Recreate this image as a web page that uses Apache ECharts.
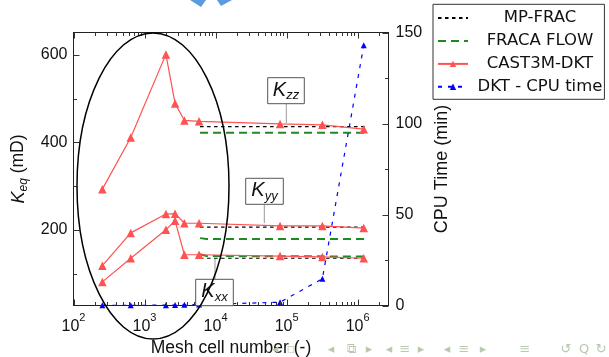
<!DOCTYPE html>
<html><head><meta charset="utf-8">
<script src="https://cdn.jsdelivr.net/npm/echarts@6/dist/echarts.min.js"></script>
<style>html,body{margin:0;padding:0;background:#fff}#c{width:609px;height:357px}</style>
</head><body><div id="c"></div>
<script>
// ---- data ----
const meshCells   = [255, 640, 2000, 2690, 3640, 5860, 80900, 319000, 1220000];
const kzzDKT      = [293, 411, 601, 489, 450, 448, 442, 440, 430];
const kyyDKT      = [118, 193, 236, 237, 215, 215, 209, 209, 204];
const kxxDKT      = [81, 135, 200, 221, 143, 143, 140, 138, 135];
const cpuTimeDKT  = [0.1, 0.1, 0.2, 0.3, 0.4, 0.5, 1.8, 14.7, 143];
const refCells    = [6050, 1350000];
const mpFracZZ    = [436, 436];
const mpFracYY    = [206, 206];
const mpFracXX    = [135, 135];
const fracaCells  = [6050, 7500, 1350000];
const fracaZZ     = [422, 422, 422];
const fracaYY     = [181, 179, 179];
const fracaXX     = [144, 140, 139];
const xMajorTicks = [100, 1000, 10000, 100000, 1000000];
const xMinorTicks = [200,300,400,500,600,700,800,900,2000,3000,4000,5000,6000,7000,8000,9000,
  20000,30000,40000,50000,60000,70000,80000,90000,200000,300000,400000,500000,600000,700000,800000,900000,2000000];
const leftMajor   = [200, 400, 600];
const leftMinor   = [100, 300, 500];
const rightMajor  = [0, 50, 100, 150];
const rightMinor  = [25, 75, 125];
const legendNames = ['MP-FRAC', 'FRACA FLOW', 'CAST3M-DKT', 'DKT - CPU time'];

const pairs = (xs, ys) => xs.map((x, i) => [x, ys[i]]);
const TICKF = 'Liberation Sans';
const FRAME = '#222', TICKC = '#333';
const RED = '#ff5252', GREEN = '#1f8a22', BLUE = '#0000ff';
const MAJOR_LEN = 6, MINOR_LEN = 3.5;

const G = {left: 73.5, top: 32.5, right: 220.5, bottom: 51.5};
const xCommon = {type: 'log', logBase: 10, min: 100, max: 2720000, splitLine: {show: false}, minorTick: {show: false}};
const subRich = {
  k: {fontFamily: TICKF, fontStyle: 'italic', fontSize: 20, fill: '#111', lineHeight: 22, verticalAlign: 'top'},
  s: {fontFamily: TICKF, fontStyle: 'italic', fontSize: 13, fill: '#111', lineHeight: 10, verticalAlign: 'bottom'}};

const tickStyle = {stroke: TICKC, lineWidth: 1, opacity: 1};
// x ticks: inward at bottom and mirrored at top
const xTickSeries = {
  type: 'custom', name: 'xticks', xAxisIndex: 0, yAxisIndex: 0, silent: true, clip: false, z: 20,
  encode: {x: 0, y: 1},
  data: xMajorTicks.map(v => [v, 300, MAJOR_LEN]).concat(xMinorTicks.map(v => [v, 300, MINOR_LEN])),
  renderItem: (params, api) => {
    const cs = params.coordSys;
    const x = Math.round(api.coord([api.value(0), api.value(1)])[0]) + 0.5;
    const len = api.value(2);
    const yb = cs.y + cs.height, yt = cs.y;
    return {type: 'group', children: [
      {type: 'line', shape: {x1: x, y1: yb, x2: x, y2: yb - len}, style: tickStyle},
      {type: 'line', shape: {x1: x, y1: yt, x2: x, y2: yt + len}, style: tickStyle}]};
  }
};
const yTickSeries = (axisIdx, major, minor, side) => ({
  type: 'custom', name: 'yticks' + axisIdx, xAxisIndex: 0, yAxisIndex: axisIdx, silent: true, clip: false, z: 20,
  encode: {x: 0, y: 1},
  data: major.map(v => [1000, v, MAJOR_LEN]).concat(minor.map(v => [1000, v, MINOR_LEN])),
  renderItem: (params, api) => {
    const cs = params.coordSys;
    const y = Math.round(api.coord([api.value(0), api.value(1)])[1]) + 0.5;
    const len = api.value(2);
    const x0 = side === 'left' ? cs.x : cs.x + cs.width;
    const x1 = side === 'left' ? x0 + len : x0 - len;
    return {type: 'line', shape: {x1: x0, y1: y, x2: x1, y2: y}, style: tickStyle};
  }
});

const chart = echarts.init(document.getElementById('c'), null, {renderer: 'canvas'});
chart.setOption({
  animation: false,
  backgroundColor: '#fff',
  grid: Object.assign({show: false, containLabel: false, outerBoundsMode: 'none'}, G),
  xAxis: [
    Object.assign({}, xCommon, {position: 'bottom',
      axisLine: {show: true, lineStyle: {color: FRAME, width: 1}},
      axisTick: {show: false},
      axisLabel: {show: true, customValues: xMajorTicks, margin: 7,
        formatter: v => '{b|10}{s|' + Math.round(Math.log10(v)) + '}',
        rich: {b: {fontFamily: TICKF, fontSize: 16, color: '#111', lineHeight: 22, verticalAlign: 'bottom'},
               s: {fontFamily: TICKF, fontSize: 11, color: '#111', lineHeight: 8, verticalAlign: 'top'}}},
      name: 'Mesh cell number (-)', nameLocation: 'middle', nameGap: 31,
      nameTextStyle: {fontFamily: TICKF, fontSize: 17.5, color: '#111'}}),
    Object.assign({}, xCommon, {position: 'top',
      axisLine: {show: true, lineStyle: {color: FRAME, width: 1}},
      axisTick: {show: false}, axisLabel: {show: false}})
  ],
  yAxis: [
    {type: 'value', position: 'left', min: 27, max: 651, splitLine: {show: false},
      axisLine: {show: true, lineStyle: {color: FRAME, width: 1}},
      axisTick: {show: false},
      axisLabel: {show: true, customValues: leftMajor, margin: 6, fontFamily: TICKF, fontSize: 16, color: '#111'},
      name: '{k|K}{e|eq}{t| (mD)}', nameLocation: 'middle', nameGap: 44, nameRotate: 90,
      nameTextStyle: {rich: {
        k: {fontFamily: TICKF, fontStyle: 'italic', fontSize: 18, color: '#111', lineHeight: 20, verticalAlign: 'top'},
        e: {fontFamily: TICKF, fontStyle: 'italic', fontSize: 12, color: '#111', lineHeight: 9, verticalAlign: 'bottom'},
        t: {fontFamily: TICKF, fontSize: 17.5, color: '#111', lineHeight: 20, verticalAlign: 'top'}}}},
    {type: 'value', position: 'right', min: 0, max: 150, splitLine: {show: false},
      axisLine: {show: true, lineStyle: {color: FRAME, width: 1}},
      axisTick: {show: false},
      axisLabel: {show: true, customValues: rightMajor, margin: 7, fontFamily: TICKF, fontSize: 16, color: '#111'},
      name: 'CPU Time (min)', nameLocation: 'middle', nameGap: 45, nameRotate: 90,
      nameTextStyle: {fontFamily: TICKF, fontSize: 18, color: '#111'}}
  ],
  legend: {
    orient: 'vertical', left: 433, top: 4.3, padding: [5.3, 2, 4, 4],
    itemWidth: 30, itemHeight: 8, itemGap: 5.9,
    borderColor: '#333', borderWidth: 1, borderRadius: 0, backgroundColor: '#fff',
    data: [
      {name: legendNames[0], itemStyle: {opacity: 0}},
      {name: legendNames[1], itemStyle: {opacity: 0}},
      {name: legendNames[2]},
      {name: legendNames[3]}
    ],
    formatter: n => '{c|' + n + '}',
    textStyle: {fontFamily: 'DejaVu Sans', fontSize: 16.5, color: '#111',
      rich: {c: {width: 134, align: 'center', fontFamily: 'DejaVu Sans', fontSize: 16.5, color: '#111'}}}
  },
  series: [
    xTickSeries,
    yTickSeries(0, leftMajor, leftMinor, 'left'),
    yTickSeries(1, rightMajor, rightMinor, 'right'),
    ...[mpFracZZ, mpFracYY, mpFracXX].map(d => ({
      name: 'MP-FRAC', type: 'line', xAxisIndex: 0, yAxisIndex: 0, data: pairs(refCells, d),
      symbol: 'none', color: '#000', lineStyle: {color: '#000', width: 1.2, type: [3.5, 3.5]}, z: 2})),
    ...[fracaZZ, fracaYY, fracaXX].map(d => ({
      name: 'FRACA FLOW', type: 'line', xAxisIndex: 0, yAxisIndex: 0, data: pairs(fracaCells, d),
      symbol: 'none', color: GREEN, lineStyle: {color: GREEN, width: 2, type: [8, 5]}, z: 2})),
    ...[kzzDKT, kyyDKT, kxxDKT].map(d => ({
      name: 'CAST3M-DKT', type: 'line', xAxisIndex: 0, yAxisIndex: 0, data: pairs(meshCells, d),
      symbol: 'triangle', symbolSize: 8.5, showSymbol: true, color: RED,
      itemStyle: {color: RED}, lineStyle: {color: RED, width: 1.2}, z: 3})),
    {name: 'DKT - CPU time', type: 'line', xAxisIndex: 0, yAxisIndex: 1, data: pairs(meshCells, cpuTimeDKT),
      symbol: 'triangle', symbolSize: 6, showSymbol: true, color: BLUE,
      itemStyle: {color: BLUE}, lineStyle: {color: BLUE, width: 1.2, type: [4, 6]}, z: 4}
  ],
  graphic: {elements: [
    // ellipse highlighting the coarse meshes
    {type: 'ellipse', shape: {cx: 153, cy: 186, rx: 76, ry: 153}, style: {fill: 'none', stroke: '#000', lineWidth: 1.5}, z: 100},
    // K_zz / K_yy / K_xx callouts
    {type: 'line', shape: {x1: 286.3, y1: 103.8, x2: 286.3, y2: 123}, style: {stroke: '#999', lineWidth: 1}, z: 90},
    {type: 'rect', shape: {x: 267.7, y: 77.7, width: 36.6, height: 26}, style: {fill: '#fff', stroke: '#555', lineWidth: 1}, z: 91},
    {type: 'text', x: 286, y: 91, style: {text: '{k|K}{s|zz}', align: 'center', verticalAlign: 'middle', rich: subRich}, z: 92},
    {type: 'line', shape: {x1: 264.3, y1: 204.3, x2: 264.3, y2: 223}, style: {stroke: '#999', lineWidth: 1}, z: 90},
    {type: 'rect', shape: {x: 245.7, y: 178.3, width: 37.6, height: 26}, style: {fill: '#fff', stroke: '#555', lineWidth: 1}, z: 91},
    {type: 'text', x: 264.5, y: 191.5, style: {text: '{k|K}{s|yy}', align: 'center', verticalAlign: 'middle', rich: subRich}, z: 92},
    {type: 'line', shape: {x1: 215, y1: 259, x2: 215, y2: 279.3}, style: {stroke: '#999', lineWidth: 1}, z: 90},
    {type: 'rect', shape: {x: 195.7, y: 279.3, width: 37.6, height: 26.4}, style: {fill: '#fff', stroke: '#555', lineWidth: 1}, z: 91},
    {type: 'text', x: 214.5, y: 292.5, style: {text: '{k|K}{s|xx}', align: 'center', verticalAlign: 'middle', rich: subRich}, z: 92},
    // fragments of the slide element above
    {type: 'polygon', shape: {points: [[190, 0], [206, 0], [201, 7]]}, style: {fill: '#5a9be0'}, z: 1},
    {type: 'polygon', shape: {points: [[217, 0], [232, 0], [221, 6]]}, style: {fill: '#5a9be0'}, z: 1},
    // beamer navigation symbols
    ...[['◂', 275], ['▫', 291], ['◂', 331], ['⧉', 351], ['▸', 369], ['◂', 389], ['≡', 405], ['▸', 421],
        ['◂', 447], ['≡', 464], ['▸', 483], ['≡', 525], ['↺', 566], ['Q', 584], ['↻', 601]].map(([t, x]) => ({
      type: 'text', x: x, y: 350, style: {text: t, align: 'center', verticalAlign: 'middle',
        fontFamily: 'DejaVu Sans', fontSize: 13, fill: '#b8c9b0'}, z: 50}))
  ]}
});
</script></body></html>
